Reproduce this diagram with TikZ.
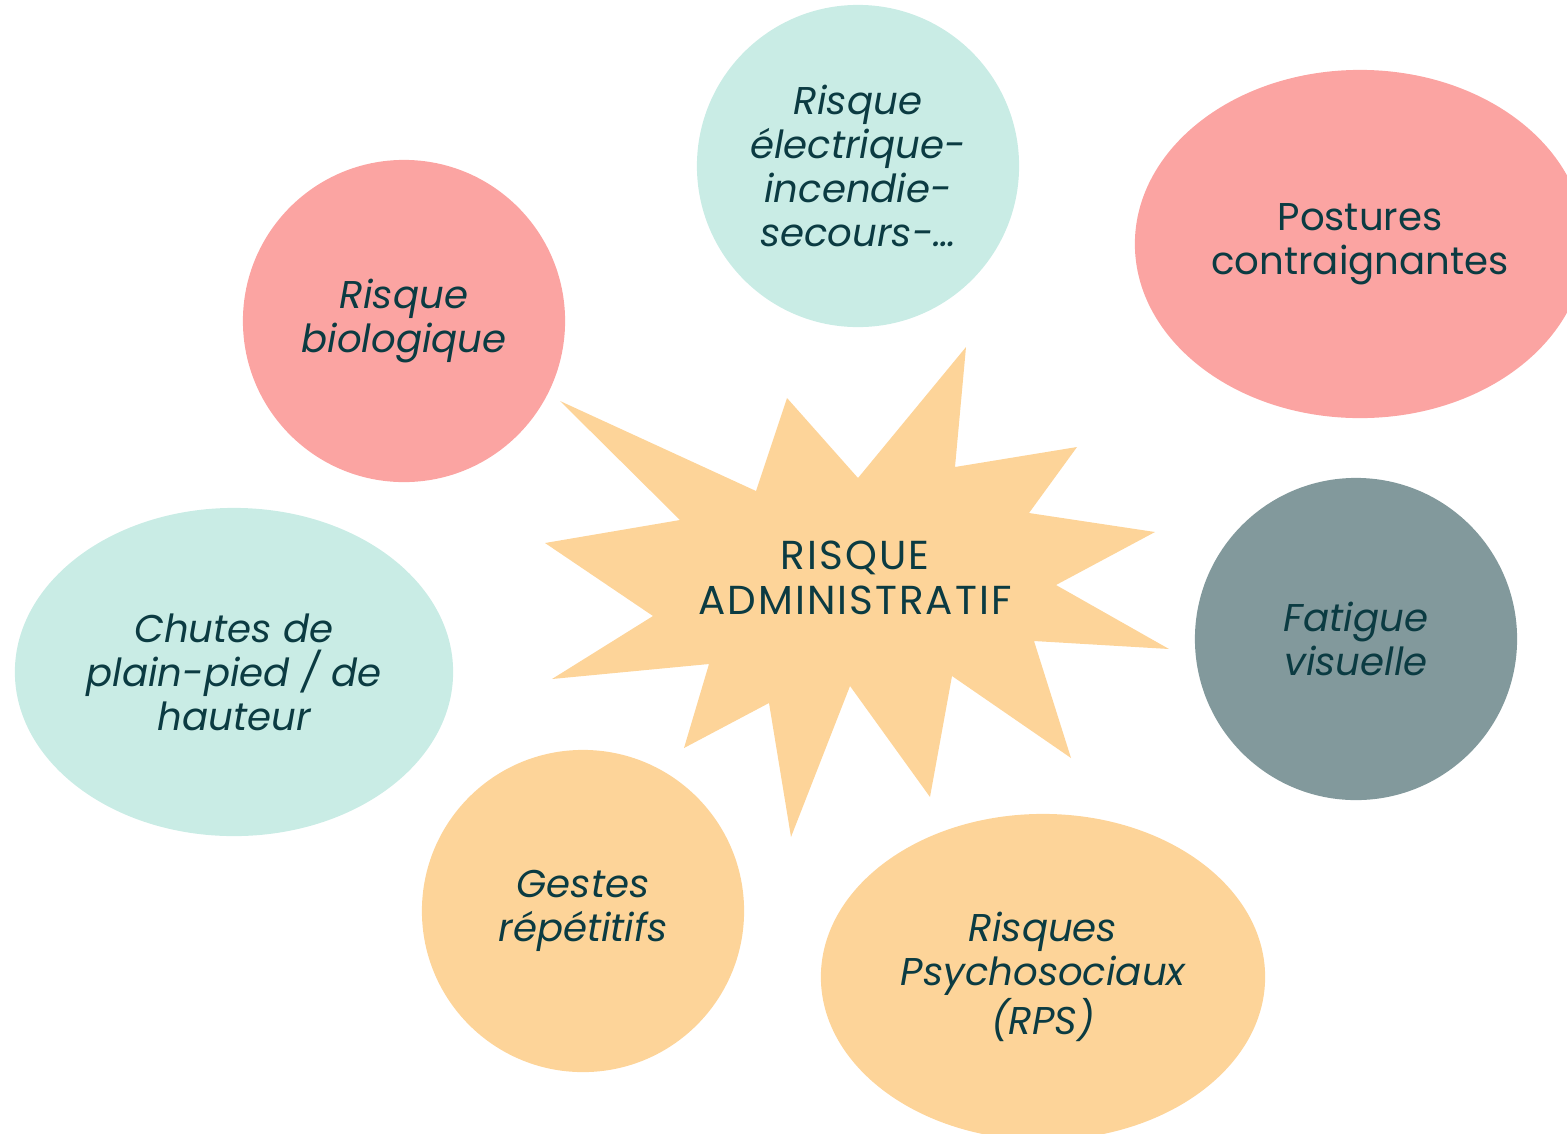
\documentclass[tikz,border=0pt]{standalone}
\usepackage{fontspec}
\setmainfont{Poppins}
\usetikzlibrary{shapes.geometric}
\definecolor{mint}{HTML}{C9ECE5}
\definecolor{rose}{HTML}{FBA4A2}
\definecolor{peach}{HTML}{FDD499}
\definecolor{slate}{HTML}{82999C}
\definecolor{ink}{HTML}{0B3B42}
\newcommand{\riskfont}{\fontsize{11}{12.5}\selectfont}
\newcommand{\riskstrut}{\rule{0pt}{\dimexpr\fontcharht\font`l+2.8pt\relax}}

\begin{document}
\begin{tikzpicture}[x=0.01cm, y=-0.01cm, inner sep=0pt, text=ink,
                    bubble/.style={circle, minimum size=3.22cm, align=center, font=\riskfont\itshape, execute at begin node=\riskstrut},
                    blob/.style={ellipse, align=center, font=\riskfont\itshape, execute at begin node=\riskstrut}]
\useasboundingbox (0,0) rectangle (1567,1133);
\clip (0,0) rectangle (1567,1133);

% bubbles
\node[bubble, fill=mint] (elec) at (858,166) {Risque\\électrique-\\incendie-\\secours-…};
\node[blob, fill=rose, minimum width=4.5cm, minimum height=3.48cm, font=\riskfont] (post) at (1360,244) {Postures\\contraignantes};
\node[bubble, fill=rose] (bio) at (404,321) {Risque\\biologique};
\node[blob, fill=mint, minimum width=4.38cm, minimum height=3.28cm] (chute) at (234,672) {Chutes de\\plain-pied / de\\hauteur};
\node[bubble, fill=slate] (fatigue) at (1356,639) {Fatigue\\visuelle};
\node[bubble, fill=peach] (gestes) at (583,911) {Gestes\\répétitifs};
\node[blob, fill=peach, minimum width=4.44cm, minimum height=3.26cm] (rps) at (1043,977) {Risques\\Psychosociaux\\(RPS)};

% central star
\fill[peach] (560,401) -- (756,491) -- (787,398) -- (858,478) -- (966,347) -- (955,467)
  -- (1077,447) -- (1029,513) -- (1155,532) -- (1056,585) -- (1169,649) -- (1034,641)
  -- (1071,758) -- (952,676) -- (930,797) -- (850,686) -- (791,837) -- (769,703)
  -- (684,748) -- (709,664) -- (552,679) -- (653,616) -- (545,543) -- (680,520) -- cycle;
\node[align=center, font=\fontsize{11.5}{12.8}\selectfont\addfontfeatures{LetterSpace=5}] (admin) at (855,578) {RISQUE\\ADMINISTRATIF};

\end{tikzpicture}
\end{document}
